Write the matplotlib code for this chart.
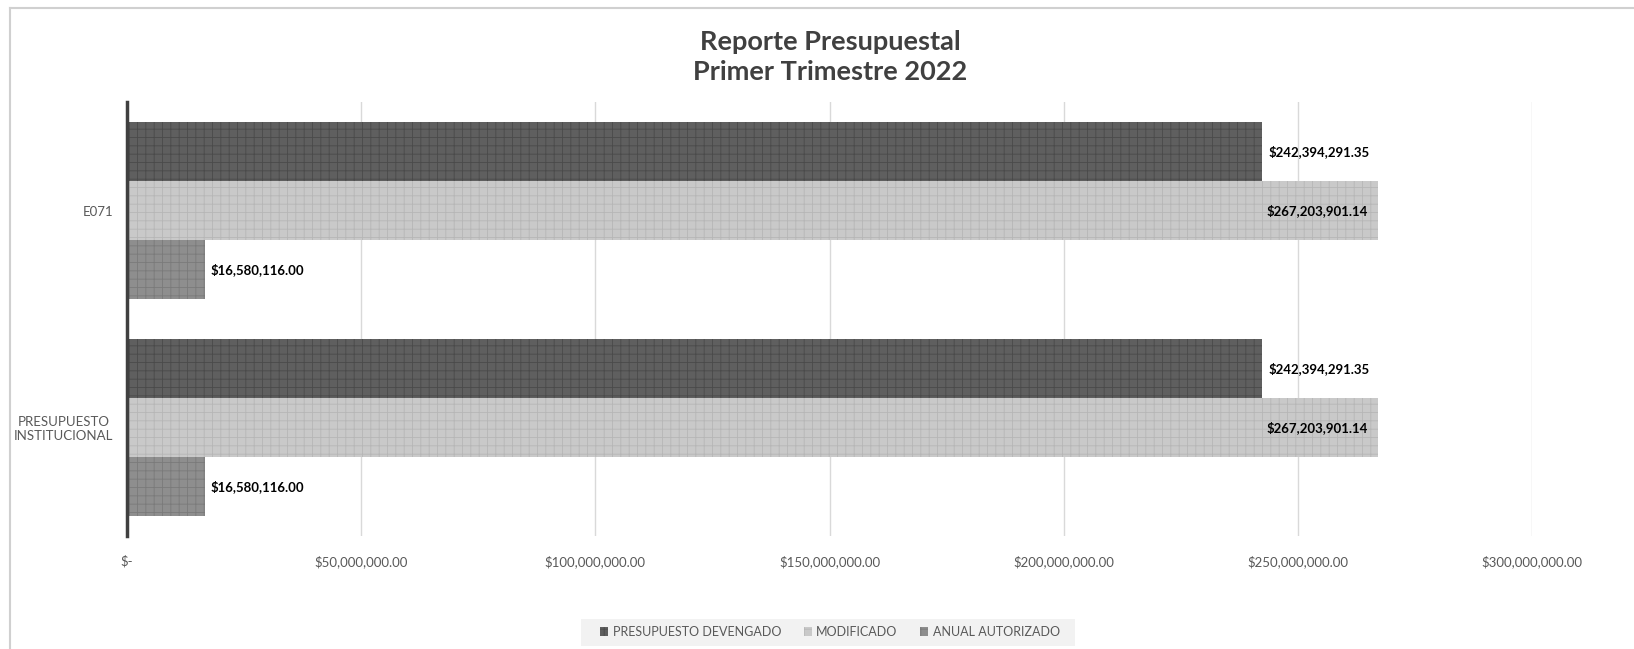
import numpy as np
import matplotlib.pyplot as plt
from matplotlib.lines import Line2D
from matplotlib.patches import Rectangle
from matplotlib.ticker import FuncFormatter

plt.rcParams['font.family'] = ['Lato', 'DejaVu Sans']
plt.rcParams['hatch.linewidth'] = 0.6

# Data
categories = ["E071", "PRESUPUESTO\nINSTITUCIONAL"]
series_names = ["PRESUPUESTO DEVENGADO", "MODIFICADO", "ANUAL AUTORIZADO"]
devengado = [242394291.35, 242394291.35]
modificado = [267203901.14, 267203901.14]
autorizado = [16580116.00, 16580116.00]
xticks = [0, 50e6, 100e6, 150e6, 200e6, 250e6, 300e6]

W, H = 1634, 649
fig = plt.figure(figsize=(W / 100, H / 100), dpi=100)

# axes placement in pixels
left, right, top, bottom = 127, 1532, 102, 536
ax = fig.add_axes([left / W, 1 - bottom / H, (right - left) / W, (bottom - top) / H])

y = np.array([0, 1])
bh = 0.273
faces = ["#5f5f5f", "#c9c9c9", "#8e8e8e"]
hatches = ["#4a4a4a", "#b6b6b6", "#7a7a7a"]
values = [devengado, modificado, autorizado]
offsets = [-bh, 0, bh]

for vals, off, fc, hc, name in zip(values, offsets, faces, hatches, series_names):
    ax.barh(y + off, vals, height=bh, color=fc, edgecolor=hc, hatch="++",
            linewidth=0, label=name, zorder=3)

# data labels
for i in range(len(categories)):
    ax.text(devengado[i] + 1.3e6, y[i] - bh, "${:,.2f}".format(devengado[i]),
            va="center", ha="left", fontsize=9.5, fontweight="bold", color="black", zorder=4)
    ax.text(modificado[i] - 2.2e6, y[i], "${:,.2f}".format(modificado[i]),
            va="center", ha="right", fontsize=9.5, fontweight="bold", color="black", zorder=4)
    ax.text(autorizado[i] + 1.3e6, y[i] + bh, "${:,.2f}".format(autorizado[i]),
            va="center", ha="left", fontsize=9.5, fontweight="bold", color="black", zorder=4)

ax.set_xlim(0, 300e6)
ax.set_ylim(1.5, -0.5)
ax.set_xticks(xticks)
ax.xaxis.set_major_formatter(FuncFormatter(lambda v, p: "$-" if v == 0 else "${:,.2f}".format(v)))
ax.set_yticks(y)
ax.set_yticklabels(categories)
ax.tick_params(axis="both", length=0, colors="#595959", labelsize=9.5)
ax.tick_params(axis="x", pad=14)
ax.tick_params(axis="y", pad=10)
for lab in ax.get_yticklabels():
    lab.set_multialignment("center")

ax.grid(axis="x", color="#d9d9d9", linewidth=1, zorder=0)
for s in ["top", "right", "bottom"]:
    ax.spines[s].set_visible(False)
ax.spines["left"].set_color("#404040")
ax.spines["left"].set_linewidth(2.5)
ax.spines["left"].set_zorder(5)

# title
fig.text(830 / W, 1 - 57 / H, "Reporte Presupuestal\nPrimer Trimestre 2022", ha="center",
         va="center", fontsize=19.5, fontweight="bold", color="#404040", linespacing=1.25)

# legend with light background box
fig.patches.append(Rectangle((581 / W, 1 - 646 / H), (1075 - 581) / W, 27 / H,
                             transform=fig.transFigure, facecolor="#f2f2f2", edgecolor="none",
                             hatch="++", zorder=0))
handles, labels = ax.get_legend_handles_labels()
leg = fig.legend(handles, labels, loc="center", bbox_to_anchor=(830 / W, 1 - 632 / H),
                 ncol=3, frameon=False, fontsize=9, handlelength=0.65, handleheight=0.65,
                 handletextpad=0.35, columnspacing=1.8)
for t in leg.get_texts():
    t.set_color("#595959")

# outer chart border (top and left only visible)
fig.add_artist(Line2D([10 / W, 1], [1 - 8 / H, 1 - 8 / H], transform=fig.transFigure,
                      color="#d0d0d0", linewidth=1.5))
fig.add_artist(Line2D([10 / W, 10 / W], [0, 1 - 8 / H], transform=fig.transFigure,
                      color="#d0d0d0", linewidth=1.5))

plt.savefig("out.png", dpi=100)
